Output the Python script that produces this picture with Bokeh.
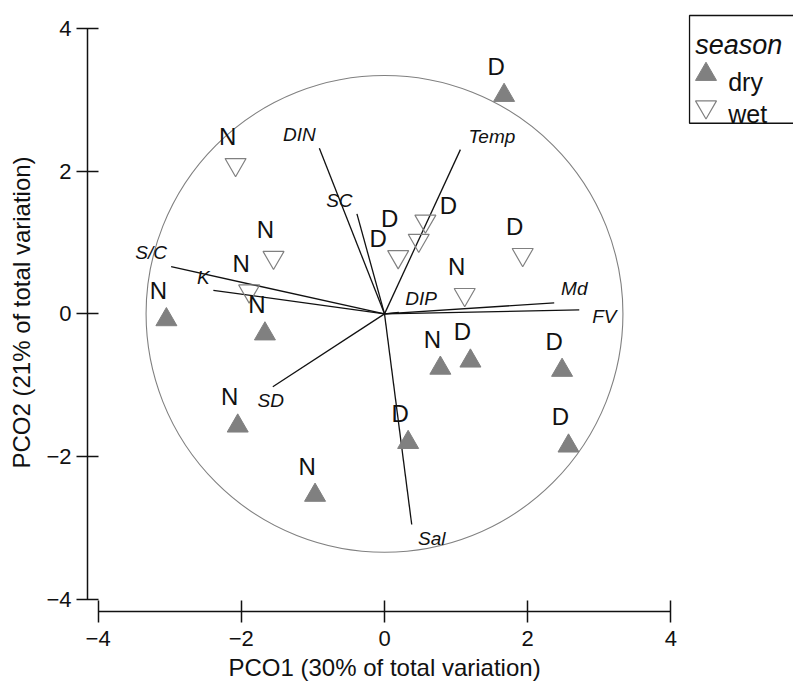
from bokeh.plotting import figure
from bokeh.models import Range1d, FixedTicker, Title, ColumnDataSource
from bokeh.core.properties import value
from bokeh.embed import file_html
from bokeh.resources import INLINE

# ---- data -----------------------------------------------------------
dry_x = [-3.046, -1.67, -2.05, -0.97, 0.78, 1.20, 2.48, 0.33, 2.57, 1.67]
dry_y = [-0.081, -0.28, -1.57, -2.54, -0.76, -0.66, -0.79, -1.80, -1.85, 3.06]
dry_lab = ["N", "N", "N", "N", "N", "D", "D", "D", "D", "D"]

wet_x = [-2.08, -1.55, -1.89, 1.12, 1.93, 0.571, 0.478, 0.191]
wet_y = [2.09, 0.79, 0.32, 0.27, 0.83, 1.298, 1.029, 0.80]
wet_lab = ["N", "N", "N", "N", "D", "D", "D", "D"]

vec_names = ["DIN", "SC", "S/C", "K", "Temp", "Md", "FV", "DIP", "SD", "Sal"]
vec_x = [-0.91, -0.385, -2.98, -2.39, 1.06, 2.37, 2.72, 0.20, -1.56, 0.38]
vec_y = [2.32, 1.40, 0.66, 0.33, 2.30, 0.154, 0.056, 0.02, -1.02, -2.95]
vec_lab_x = [-1.19, -0.63, -3.26, -2.53, 1.50, 2.65, 3.07, 0.51, -1.59, 0.66]
vec_lab_y = [2.51, 1.59, 0.856, 0.512, 2.48, 0.35, -0.04, 0.218, -1.22, -3.14]

circle_r = 3.33
ticks = [-4, -2, 0, 2, 4]
tick_text = {-4: "\u22124", -2: "\u22122", 0: "0", 2: "2", 4: "4"}
x_title = "PCO1 (30% of total variation)"
y_title = "PCO2 (21% of total variation)"
legend_title = "season"
legend_items = ["dry", "wet"]

# label offsets (pixels) -- default above-left, three crowded labels moved
dry_dx = [-8] * len(dry_x)
dry_dy = [-29] * len(dry_x)
wet_dx = [-8, -8, -8, -8, -8, 23, -29, -20]
wet_dy = [-28, -28, -28, -28, -28, -16, -22, -18]

FONT = value("Liberation Sans")
GREY = "#808080"
INK = "#111111"

p = figure(width=793, height=684,
           x_range=Range1d(-4.148, 5.712), y_range=Range1d(-4.168, 4.206),
           output_backend="svg", toolbar_location=None,
           min_border_left=87, min_border_right=0,
           min_border_top=13, min_border_bottom=73)
p.outline_line_color = None
p.grid.visible = False
p.background_fill_color = "white"
p.border_fill_color = "white"

for ax in (p.xaxis[0], p.yaxis[0]):
    ax.ticker = FixedTicker(ticks=ticks)
    ax.bounds = (-4, 4)
    ax.major_label_overrides = tick_text
    ax.minor_tick_line_color = None
    ax.axis_line_color = INK
    ax.axis_line_width = 1.5
    ax.major_tick_line_color = INK
    ax.major_tick_line_width = 1.5
    ax.major_tick_in = 11
    ax.major_tick_out = 11
    ax.major_label_text_font = "Liberation Sans"
    ax.major_label_text_font_size = "22px"
    ax.major_label_text_color = INK

p.xaxis[0].major_label_standoff = 8
p.yaxis[0].major_label_standoff = 5
p.yaxis[0].axis_label = y_title
p.yaxis[0].axis_label_text_font = "Liberation Sans"
p.yaxis[0].axis_label_text_font_style = "normal"
p.yaxis[0].axis_label_text_font_size = "24px"
p.yaxis[0].axis_label_text_color = INK
p.yaxis[0].axis_label_standoff = 8

p.add_layout(Title(text=x_title, align="left", offset=141, standoff=6,
                   text_font="Liberation Sans", text_font_size="24px",
                   text_font_style="normal", text_color=INK), "below")

# circle
p.circle(x=[0], y=[0], radius=circle_r, fill_color=None,
         line_color=GREY, line_width=1.1)

# vectors
p.segment(x0=[0] * len(vec_x), y0=[0] * len(vec_y), x1=vec_x, y1=vec_y,
          line_color=INK, line_width=1.3)
p.text(x=vec_lab_x, y=vec_lab_y, text=vec_names, text_font=FONT,
       text_font_style="italic", text_font_size="19px", text_color=INK,
       text_align="center", text_baseline="middle")

# samples
p.scatter(x=dry_x, y=dry_y, marker="triangle", size=21,
          fill_color=GREY, line_color=GREY, line_width=1)
p.scatter(x=wet_x, y=wet_y, marker="inverted_triangle", size=21,
          fill_color=None, line_color=GREY, line_width=1.2)

src_dry = ColumnDataSource(dict(x=dry_x, y=dry_y, t=dry_lab, dx=dry_dx, dy=dry_dy))
src_wet = ColumnDataSource(dict(x=wet_x, y=wet_y, t=wet_lab, dx=wet_dx, dy=wet_dy))
for src in (src_dry, src_wet):
    p.text(x="x", y="y", text="t", x_offset="dx", y_offset="dy", source=src,
           text_font=FONT, text_font_size="24px", text_color=INK,
           text_align="center", text_baseline="middle")

# legend (drawn manually, box runs off the right edge as in the original)
p.quad(left=[4.26], right=[7.0], top=[4.178], bottom=[2.669],
       fill_color=None, line_color=INK, line_width=1.3)
p.text(x=[4.34], y=[3.758], text=[legend_title], text_font=FONT,
       text_font_style="italic", text_font_size="27px", text_color=INK,
       text_align="left", text_baseline="alphabetic")
p.scatter(x=[4.49], y=[3.354], marker="triangle", size=21,
          fill_color=GREY, line_color=GREY)
p.scatter(x=[4.49], y=[2.898], marker="inverted_triangle", size=21,
          fill_color=None, line_color=GREY, line_width=1.2)
p.text(x=[4.80, 4.80], y=[3.244, 2.801], text=legend_items, text_font=FONT,
       text_font_size="25px", text_color=INK,
       text_align="left", text_baseline="alphabetic")

open("out.html", "w").write(file_html(p, INLINE))
